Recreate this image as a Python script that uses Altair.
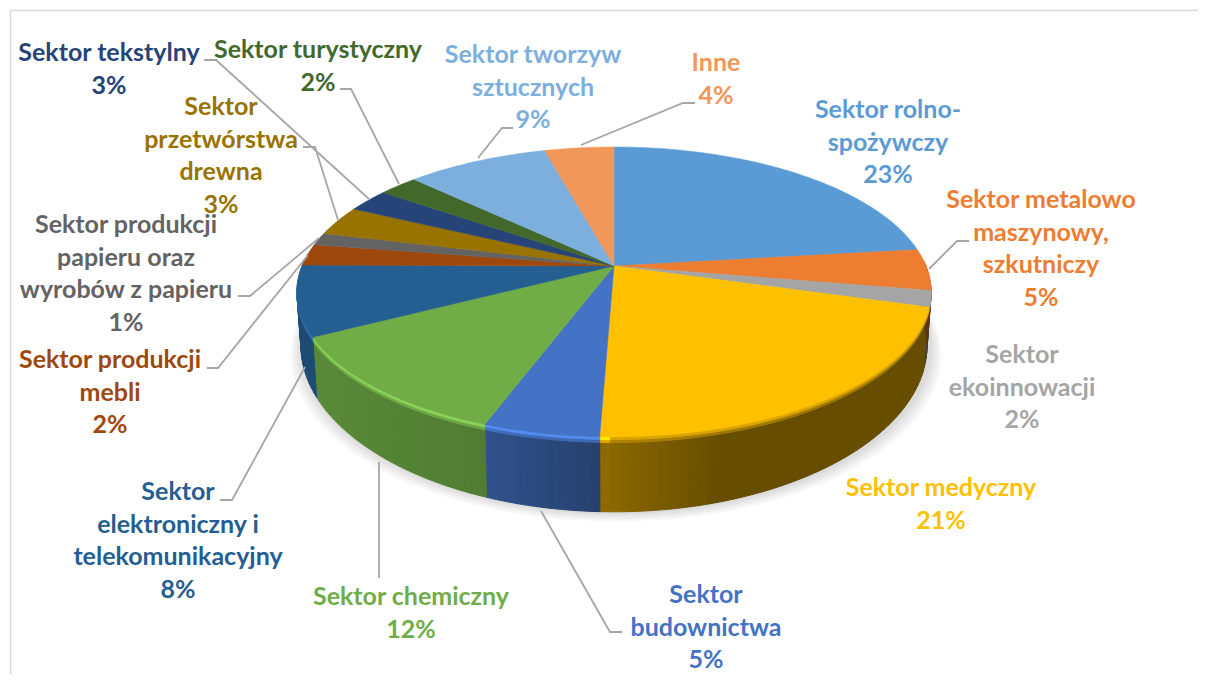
import math
import altair as alt
import pandas as pd

# --- data ---
names = ["Sektor rolno-spożywczy", "Sektor metalowo maszynowy, szkutniczy", "Sektor ekoinnowacji",
         "Sektor medyczny", "Sektor budownictwa", "Sektor chemiczny",
         "Sektor elektroniczny i telekomunikacyjny", "Sektor produkcji mebli",
         "Sektor produkcji papieru oraz wyrobów z papieru", "Sektor przetwórstwa drewna",
         "Sektor tekstylny", "Sektor turystyczny", "Sektor tworzyw sztucznych", "Inne"]
shares = [23.1, 4.6, 1.8, 21.1, 5.0, 11.7, 7.8, 2.4, 1.4, 3.3, 2.6, 2.4, 8.6, 4.2]
colors = ["#5B9BD5", "#ED7D31", "#A5A5A5", "#FFC000", "#4472C4", "#70AD47", "#255E91",
          "#9E480E", "#636363", "#997300", "#264478", "#43682B", "#7CAFDD", "#F1975A"]

label_lines = [
    (["Sektor rolno-", "spożywczy", "23%"], 888, 110),
    (["Sektor metalowo", "maszynowy,", "szkutniczy", "5%"], 1041, 200),
    (["Sektor", "ekoinnowacji", "2%"], 1022, 355),
    (["Sektor medyczny", "21%"], 941, 488),
    (["Sektor", "budownictwa", "5%"], 706, 595),
    (["Sektor chemiczny", "12%"], 411, 597),
    (["Sektor", "elektroniczny i", "telekomunikacyjny", "8%"], 178, 492),
    (["Sektor produkcji", "mebli", "2%"], 110, 360),
    (["Sektor produkcji", "papieru oraz", "wyrobów z papieru", "1%"], 126, 225),
    (["Sektor", "przetwórstwa", "drewna", "3%"], 221, 107),
    (["Sektor tekstylny", "3%"], 109, 53),
    (["Sektor turystyczny", "2%"], 318, 50),
    (["Sektor tworzyw", "sztucznych", "9%"], 533, 55),
    (["Inne", "4%"], 716, 63),
]
leaders = [
    [(929, 269), (957, 241), (969, 241)],
    [(541, 511), (610, 632), (622, 632)],
    [(379, 462), (379, 578)],
    [(305, 367), (232, 500), (220, 500)],
    [(308, 255), (218, 368), (207, 368)],
    [(319, 238), (250, 296), (238, 296)],
    [(338, 220), (315, 147), (303, 147)],
    [(369, 199), (216, 60), (204, 60)],
    [(399, 184), (351, 89), (340, 89)],
    [(478, 158), (502, 128), (513, 128)],
    [(581, 145), (683, 103), (695, 103)],
]
LINE_H = 32.5
FONT = "Lato"
FSIZE = 25
WALL_X = [300, 480, 600, 720, 935]
WALL_S = [0.80, 0.72, 0.56, 0.40, 0.40]


# --- perspective of the pie ---
def top_pt(t):
    u, v = math.sin(t), math.cos(t)
    d = 1 + 0.179 * v
    return (614 + 312 * u / d, 266 - 140.3 * v / d)


def bot_pt(t):
    u, v = math.sin(t), math.cos(t)
    d = 1 + 0.179 * v
    return (614 + 0.987 * 312 * u / d, 266 - 140.3 * v / d + 50.5 / (d * d))


def rgb(h):
    return [int(h[i:i + 2], 16) for i in (1, 3, 5)]


def hexc(c):
    return "#%02x%02x%02x" % tuple(max(0, min(255, int(round(x)))) for x in c)


def scale(h, s):
    return [x * s for x in rgb(h)]


def interp(x, xs, ys):
    if x <= xs[0]:
        return ys[0]
    for i in range(1, len(xs)):
        if x <= xs[i]:
            f = (x - xs[i - 1]) / (xs[i] - xs[i - 1])
            return ys[i - 1] + f * (ys[i] - ys[i - 1])
    return ys[-1]


def lerp(P, Q, f):
    return (P[0] + (Q[0] - P[0]) * f, P[1] + (Q[1] - P[1]) * f)


def feature(coords, fill, kind="Polygon"):
    if kind == "Polygon":
        geom = {"type": "Polygon", "coordinates": [[list(p) for p in coords] + [list(coords[0])]]}
    else:
        geom = {"type": "LineString", "coordinates": [list(p) for p in coords]}
    return {"type": "Feature", "geometry": geom, "properties": {"fill": fill}}


bounds = [0.0]
for s in shares:
    bounds.append(bounds[-1] + s / sum(shares) * 2 * math.pi)

tops, walls = [], []
for i, col in enumerate(colors):
    a, b = bounds[i], bounds[i + 1]
    n = max(2, int((b - a) / math.radians(1)))
    pts = [top_pt(a + (b - a) * j / n) for j in range(n + 1)]
    tops.append(feature([(614, 266)] + pts, col))
    lo, hi = max(a, math.radians(88)), min(b, math.radians(275))
    if lo < hi:
        m = max(2, int((hi - lo) / math.radians(1.5)))
        for j in range(m):
            t0, t1 = lo + (hi - lo) * j / m, lo + (hi - lo) * (j + 1) / m
            T0, T1, B0, B1 = top_pt(t0), top_pt(t1), bot_pt(t0), bot_pt(t1)
            xm = (T0[0] + T1[0]) / 2
            wall = scale(col, interp(xm, WALL_X, WALL_S))
            edge = scale(col, 1.22 if xm < 610 else 0.85)
            mix = [(p + q) / 2 for p, q in zip(edge, wall)]
            bands = [(0, 0.035, edge), (0.035, 0.075, mix), (0.075, 1, wall)]
            for f0, f1, c in bands:
                walls.append((abs(math.pi - (t0 + t1) / 2), f0, feature(
                    [lerp(T0, B0, f0), lerp(T1, B1, f0), lerp(T1, B1, f1), lerp(T0, B0, f1)], hexc(c))))
walls.sort(key=lambda w: (-w[1], w[0]))
wall_features = [w[2] for w in walls]

shadows = []
for grow in (3, 6, 9, 12):
    ring = []
    for d in range(0, 360, 3):
        p = bot_pt(math.radians(d))
        ring.append((614 + (p[0] - 614) * (1 + grow / 310) + 2, p[1] + grow * 0.8))
    shadows.append(feature(ring, "#000000"))

leader_features = [feature(l, "#A6A6A6", "LineString") for l in leaders]
frame = [feature([(1198, 10.5), (10.5, 10.5), (10.5, 674)], "#D9D9D9", "LineString")]

rows = []
for (lines, cx, cy), col in zip(label_lines, colors):
    for k, line in enumerate(lines):
        rows.append({"text": line, "x": cx, "y": cy + k * LINE_H, "color": col})
text_df = pd.DataFrame(rows)


def geo_data(feats):
    return alt.InlineData(values=feats, format=alt.DataFormat(type="json"))


proj = dict(type="identity", scale=1, translate=[-8, -8])

shadow_layer = alt.Chart(geo_data(shadows)).mark_geoshape(
    fill="#000000", fillOpacity=0.035, strokeWidth=0).project(**proj)
wall_layer = alt.Chart(geo_data(wall_features)).mark_geoshape(strokeWidth=1).encode(
    fill=alt.Fill("properties.fill:N", scale=None), stroke=alt.Stroke("properties.fill:N", scale=None)
).project(**proj)
top_layer = alt.Chart(geo_data(tops)).mark_geoshape(strokeWidth=0.5).encode(
    fill=alt.Fill("properties.fill:N", scale=None), stroke=alt.Stroke("properties.fill:N", scale=None)
).project(**proj)
leader_layer = alt.Chart(geo_data(leader_features)).mark_geoshape(
    filled=False, stroke="#A6A6A6", strokeWidth=1.8).project(**proj)
frame_layer = alt.Chart(geo_data(frame)).mark_geoshape(
    filled=False, stroke="#D9D9D9", strokeWidth=1.5).project(**proj)
text_layer = alt.Chart(text_df).mark_text(
    font=FONT, fontSize=FSIZE, fontWeight="bold", align="center", baseline="middle"
).encode(
    longitude="x:Q", latitude="y:Q", text="text:N", color=alt.Color("color:N", scale=None)
).project(**proj)

chart = alt.layer(frame_layer, shadow_layer, wall_layer, top_layer, leader_layer, text_layer).properties(
    width=1190, height=666, padding=0, autosize=alt.AutoSizeParams(type="none"),
    background="white"
).configure_view(stroke=None)

chart.save("out.html", embed_options={"renderer": "svg", "actions": False})
